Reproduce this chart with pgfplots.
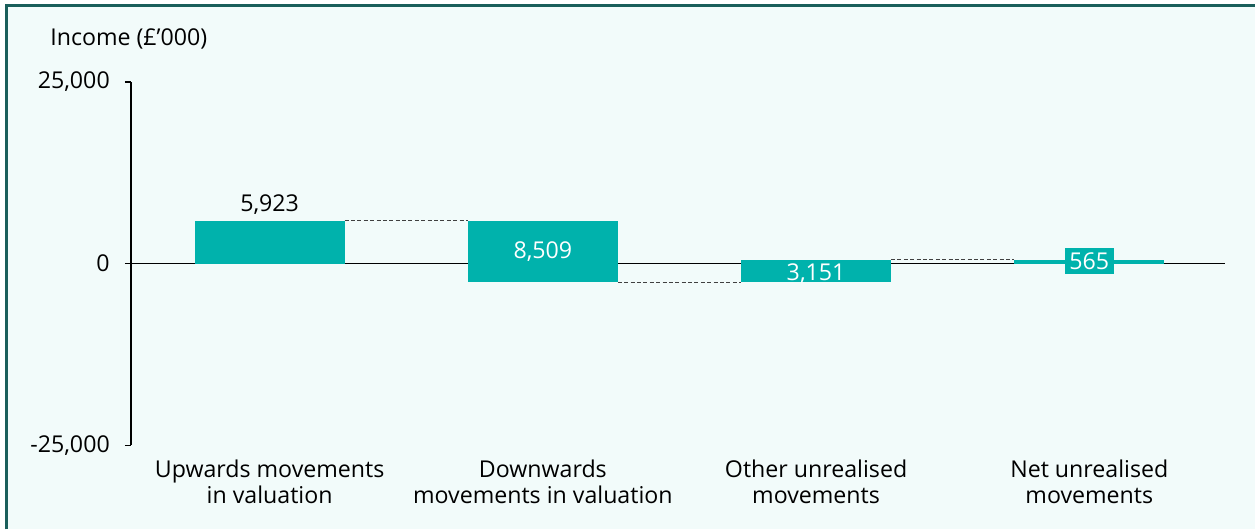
\documentclass[border=0pt]{standalone}
\usepackage{pgfplots}
\pgfplotsset{compat=1.18}
\usepackage{fontspec}
\setmainfont{Open Sans}

\definecolor{bgmint}{HTML}{F2FBFA}
\definecolor{frame}{HTML}{1A5F5B}
\definecolor{teal}{HTML}{00B2AC}
\definecolor{connector}{HTML}{404040}

\begin{document}
\fontsize{11.6}{13}\selectfont
\begin{tikzpicture}
% panel background and frame
\fill[white] (0,0) rectangle (628pt,265pt);
\fill[bgmint] (3.5pt,0) rectangle (628pt,262pt);
\draw[frame, line width=1.5pt] (3.5pt,0) -- (3.5pt,262pt) -- (628pt,262pt);

\node[anchor=base west, inner sep=0pt] at (25pt,242pt) {Income (£’000)};

\begin{axis}[
  at={(65.5pt,42pt)}, anchor=south west,
  width=547.5pt, height=182pt, scale only axis,
  xmin=-0.508, xmax=3.495,
  ymin=-25000, ymax=25000,
  scaled y ticks=false,
  axis x line*=bottom, axis y line*=left,
  x axis line style={draw=none},
  y axis line style={black, line width=0.75pt},
  xtick={0,1,2,3},
  xticklabels={{Upwards movements\\in valuation},{Downwards\\movements in valuation},{Other unrealised\\movements},{Net unrealised\\movements}},
  xticklabel style={align=center, font=\fontsize{11.6}{13}\selectfont, yshift=0pt},
  major x tick style={draw=none},
  ytick={-25000,0,25000},
  yticklabels={{-25,000},{0},{25,000}},
  yticklabel style={font=\fontsize{11.6}{13}\selectfont, xshift=-3.5pt},
  tick align=outside,
  major tick length=3pt,
  major y tick style={black, line width=0.75pt},
  clip=false,
]
% zero line
\addplot[black, line width=0.75pt, forget plot] coordinates {(-0.508,0) (3.495,0)};

% connectors between consecutive bars
\addplot[connector, line width=0.55pt, dash pattern=on 2pt off 1.2pt, forget plot]
  coordinates {(0.2742,5923) (0.7258,5923)};
\addplot[connector, line width=0.55pt, dash pattern=on 2pt off 1.2pt, forget plot]
  coordinates {(1.2742,-2586) (1.7258,-2586)};
\addplot[connector, line width=0.55pt, dash pattern=on 2pt off 1.2pt, forget plot]
  coordinates {(2.2742,565) (2.7258,565)};

% waterfall bars: upwards +5,923; downwards -8,509; other +3,151; net 565
\addplot[fill=teal, draw=none, forget plot]
  coordinates {(-0.2742,0) (0.2742,0) (0.2742,5923) (-0.2742,5923)} --cycle;
\addplot[fill=teal, draw=none, forget plot]
  coordinates {(0.7258,-2586) (1.2742,-2586) (1.2742,5923) (0.7258,5923)} --cycle;
\addplot[fill=teal, draw=none, forget plot]
  coordinates {(1.7258,-2586) (2.2742,-2586) (2.2742,565) (1.7258,565)} --cycle;
\addplot[fill=teal, draw=none, forget plot]
  coordinates {(2.7258,0) (3.2742,0) (3.2742,565) (2.7258,565)} --cycle;

% value labels
\node[anchor=base, inner sep=0pt] at (axis cs:0,7143) {5,923};
\node[anchor=base, inner sep=0pt, text=white] at (axis cs:1,687) {8,509};
\node[anchor=base, inner sep=0pt, text=white] at (axis cs:2,-2335) {3,151};
\node[anchor=center, fill=teal, text=white, inner xsep=2.2pt, inner ysep=2.2pt] at (axis cs:3,343) {565};
\end{axis}
\end{tikzpicture}
\end{document}
